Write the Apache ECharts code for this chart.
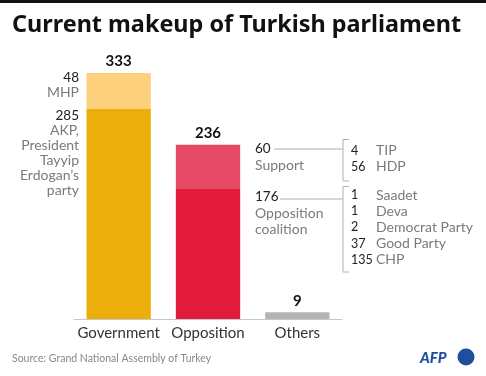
<!DOCTYPE html>
<html>
<head>
<meta charset='utf-8' />
<title>Current makeup of Turkish parliament</title>
<style>
html, body { margin: 0; padding: 0; background: #fff; }
#chart { width: 486px; height: 376px; }
</style>
</head>
<body>
<div id="chart"></div>
<script src="https://cdn.jsdelivr.net/npm/echarts@6/dist/echarts.min.js"></script>
<script>
// data
var categories = ['Government', 'Opposition', 'Others'];
var mainSeats = [285, 176, 9];     // AKP, Opposition coalition, Others
var upperSeats = [48, 60, 0];      // MHP, Support
var mainColors = ['#ebae0b', '#e31b3b', '#b4b4b4'];
var upperColors = ['#fdd07e', '#e64a66', '#b4b4b4'];

var govNotes = [
  { value: 48, lines: ['MHP'] },
  { value: 285, lines: ['AKP,', 'President', 'Tayyip', 'Erdogan\u2019s', 'party'] }
];
var oppNotes = [
  { value: 60, lines: ['Support'] },
  { value: 176, lines: ['Opposition', 'coalition'] }
];
var supportParties = [[4, 'TIP'], [56, 'HDP']];
var coalitionParties = [[1, 'Saadet'], [1, 'Deva'], [2, 'Democrat Party'], [37, 'Good Party'], [135, 'CHP']];

var totals = mainSeats.map(function (v, i) { return v + upperSeats[i]; });

var FONT = 'Lato, "Noto Sans", sans-serif';
var DARK = '#222';
var GREY = '#7a7a7a';
var LINE = '#b0b0b0';

function txt(x, y, s, color, align, size, weight, family) {
  return {
    type: 'text', x: x, y: y, silent: true,
    style: {
      text: s, fill: color, align: align || 'left', verticalAlign: 'middle',
      font: (weight || 'normal') + ' ' + (size || 14) + 'px ' + (family || FONT)
    }
  };
}

var graphics = [];
// top rule
graphics.push({ type: 'rect', shape: { x: 0, y: 0, width: 486, height: 3 }, style: { fill: '#111' } });
// title
graphics.push(txt(12, 25, 'Current makeup of Turkish parliament', '#111', 'left', 23.4, 'bold', '"Noto Sans", sans-serif'));

// left notes (government)
var gy = [78, 116];
govNotes.forEach(function (n, k) {
  graphics.push(txt(79, gy[k], String(n.value), DARK, 'right', 13.5));
  n.lines.forEach(function (l, j) {
    graphics.push(txt(79, gy[k] + 14.8 * (j + 1), l, GREY, 'right', 14));
  });
});

// right notes (opposition)
var oy = [149, 197];
var lineStart = [274, 280];
var oppLineY = [149, 199];
oppNotes.forEach(function (n, k) {
  graphics.push(txt(255, oy[k], String(n.value), DARK, 'left', 13.5));
  n.lines.forEach(function (l, j) {
    graphics.push(txt(255, oy[k] + 16 * (j + 1), l, GREY, 'left', 14));
  });
  graphics.push({ type: 'line', shape: { x1: lineStart[k], y1: oppLineY[k], x2: 343, y2: oppLineY[k] }, style: { stroke: LINE, lineWidth: 1 } });
});

// brackets with party breakdown
function bracket(top, bottom) {
  graphics.push({ type: 'polyline', shape: { points: [[349, top], [343, top], [343, bottom], [349, bottom]] }, style: { stroke: LINE, lineWidth: 1, fill: null } });
}
bracket(139.5, 181);
bracket(186.5, 272);
supportParties.forEach(function (p, j) {
  var y = 150.5 + 16 * j;
  graphics.push(txt(351, y, String(p[0]), DARK, 'left', 12.5));
  graphics.push(txt(376, y, p[1], GREY, 'left', 14));
});
coalitionParties.forEach(function (p, j) {
  var y = 195 + 16.2 * j;
  graphics.push(txt(351, y, String(p[0]), DARK, 'left', 12.5));
  graphics.push(txt(376, y, p[1], GREY, 'left', 14));
});

// footer
graphics.push(txt(12, 359, 'Source: Grand National Assembly of Turkey', '#888', 'left', 10.5));
graphics.push(txt(420, 358, 'AFP', '#1d4f9e', 'left', 15, 'italic 900'));
graphics.push({ type: 'circle', shape: { cx: 466, cy: 357, r: 8.5 }, style: { fill: '#1d4f9e' } });

var chart = echarts.init(document.getElementById('chart'), null, { renderer: 'canvas' });
chart.setOption({
  animation: false,
  grid: { left: 74, right: 144, top: 73, bottom: 57 },
  xAxis: {
    type: 'category', data: categories,
    axisLine: { lineStyle: { color: '#c8c8c8', width: 1 } },
    axisTick: { show: false },
    axisLabel: { interval: 0, color: '#333', fontSize: 15, fontFamily: FONT, margin: 7 }
  },
  yAxis: { type: 'value', min: 0, max: 333, show: false, splitLine: { show: false } },
  series: [
    {
      type: 'bar', stack: 'seats', barCategoryGap: '28%',
      data: mainSeats.map(function (v, i) { return { value: v, itemStyle: { color: mainColors[i] } }; })
    },
    {
      type: 'bar', stack: 'seats',
      data: upperSeats.map(function (v, i) { return { value: v, itemStyle: { color: upperColors[i] } }; }),
      label: {
        show: true, position: 'top', distance: 4,
        color: '#111', fontWeight: 'bold', fontSize: 15, fontFamily: FONT,
        formatter: function (p) { return totals[p.dataIndex]; }
      }
    }
  ],
  graphic: graphics
});
</script>
</body>
</html>
